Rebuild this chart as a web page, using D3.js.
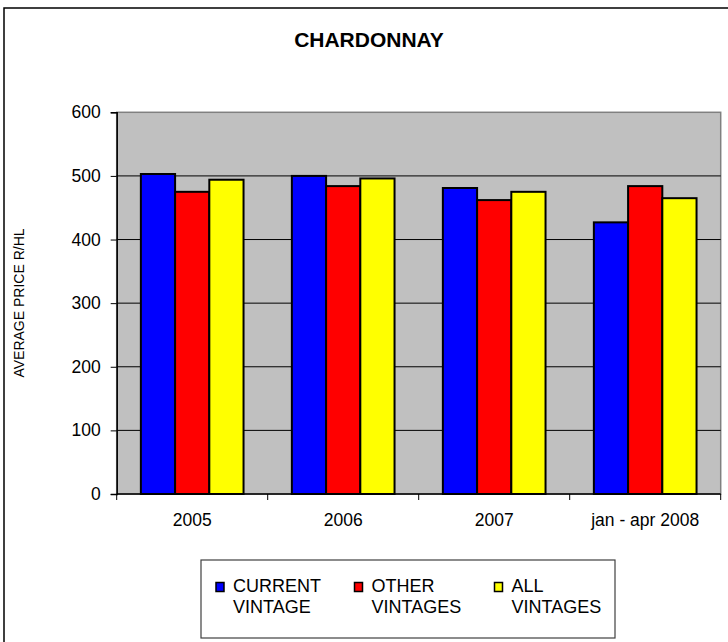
<!DOCTYPE html>
<html>
<head>
<meta charset="utf-8">
<script src="https://cdn.jsdelivr.net/npm/d3@7"></script>
<style>
  html, body { margin: 0; padding: 0; background: #ffffff; }
  svg { display: block; font-family: "Liberation Sans", Arial, sans-serif; }
</style>
</head>
<body>
<svg id="chart" width="728" height="642"></svg>
<script>
// ---- data ----
const categories = ["2005", "2006", "2007", "jan - apr 2008"];
const seriesNames = ["CURRENT VINTAGE", "OTHER VINTAGES", "ALL VINTAGES"];
const currentVintage = [503, 500, 481, 427];
const otherVintages = [475, 484, 462, 484];
const allVintages = [494, 496, 475, 465];
const yTicks = [0, 100, 200, 300, 400, 500, 600];
const seriesColors = ["#0000FF", "#FF0000", "#FFFF00"];
const legendLines = [["CURRENT", "VINTAGE"], ["OTHER", "VINTAGES"], ["ALL", "VINTAGES"]];

const seriesValues = [currentVintage, otherVintages, allVintages];
const rows = categories.map((c, i) => ({
  category: c,
  values: seriesNames.map((s, j) => ({ series: s, idx: j, value: seriesValues[j][i] }))
}));

const svg = d3.select("#chart");

// outer chart border (right/bottom cut off in reference)
svg.append("rect")
  .attr("x", 4).attr("y", 8)
  .attr("width", 760).attr("height", 700)
  .attr("fill", "#ffffff")
  .attr("stroke", "#000000")
  .attr("stroke-width", 1.5);

const plot = { left: 116.7, right: 720.7, top: 112.3, bottom: 494 };

const x0 = d3.scaleBand()
  .domain(categories)
  .range([plot.left, plot.right])
  .paddingInner(0.32)
  .paddingOuter(0.16);

const x1 = d3.scaleBand()
  .domain(seriesNames)
  .range([0, x0.bandwidth()]);

const y = d3.scaleLinear()
  .domain([0, 600])
  .range([plot.bottom, plot.top]);

// plot area background
svg.append("rect")
  .attr("x", plot.left).attr("y", plot.top)
  .attr("width", plot.right - plot.left)
  .attr("height", plot.bottom - plot.top)
  .attr("fill", "#C0C0C0")
  .attr("stroke", "#808080")
  .attr("stroke-width", 1.5);

// gridlines
svg.append("g")
  .selectAll("line")
  .data(yTicks.filter(t => t > 0 && t < 600))
  .join("line")
  .attr("x1", plot.left).attr("x2", plot.right)
  .attr("y1", d => y(d)).attr("y2", d => y(d))
  .attr("stroke", "#000000")
  .attr("stroke-width", 1);

// bars
const groups = svg.append("g")
  .selectAll("g")
  .data(rows)
  .join("g")
  .attr("transform", d => `translate(${x0(d.category)},0)`);

groups.selectAll("rect")
  .data(d => d.values)
  .join("rect")
  .attr("x", d => x1(d.series))
  .attr("y", d => y(d.value))
  .attr("width", x1.bandwidth())
  .attr("height", d => y(0) - y(d.value))
  .attr("fill", d => seriesColors[d.idx])
  .attr("stroke", "#000000")
  .attr("stroke-width", 2);

// y axis
const yAxis = d3.axisLeft(y)
  .tickValues(yTicks)
  .tickSize(6)
  .tickPadding(10)
  .tickFormat(d3.format("d"));

const gy = svg.append("g")
  .attr("transform", `translate(${plot.left},0)`)
  .call(yAxis);
gy.select(".domain").attr("stroke", "#000000").attr("stroke-width", 1.5);
gy.selectAll(".tick line").attr("stroke", "#000000").attr("stroke-width", 1);
gy.selectAll(".tick text")
  .attr("font-size", 17.5)
  .attr("font-family", "Liberation Sans, Arial, sans-serif")
  .attr("fill", "#000000");

// x axis (ticks between categories)
const gx = svg.append("g")
  .attr("transform", `translate(0,${plot.bottom})`);
gx.append("line")
  .attr("x1", plot.left).attr("x2", plot.right)
  .attr("y1", 0).attr("y2", 0)
  .attr("stroke", "#000000").attr("stroke-width", 1.5);
const step = x0.step();
const boundaries = categories.map((c, i) => i === 0 ? plot.left : x0(c) - step * 0.16).concat([plot.right]);
gx.selectAll("line.tick")
  .data(d3.range(categories.length + 1))
  .join("line")
  .attr("class", "tick")
  .attr("x1", i => plot.left + i * (plot.right - plot.left) / categories.length)
  .attr("x2", i => plot.left + i * (plot.right - plot.left) / categories.length)
  .attr("y1", 0).attr("y2", 6)
  .attr("stroke", "#000000").attr("stroke-width", 1);
gx.selectAll("text")
  .data(categories)
  .join("text")
  .attr("x", d => x0(d) + x0.bandwidth() / 2)
  .attr("y", 32)
  .attr("text-anchor", "middle")
  .attr("font-size", 17.5)
  .attr("fill", "#000000")
  .text(d => d);

// y axis title
svg.append("text")
  .attr("transform", "translate(24,303) rotate(-90)")
  .attr("text-anchor", "middle")
  .attr("font-size", 14)
  .attr("fill", "#000000")
  .text("AVERAGE PRICE R/HL");

// title
svg.append("text")
  .attr("x", 369)
  .attr("y", 47)
  .attr("text-anchor", "middle")
  .attr("font-size", 21)
  .attr("font-weight", "bold")
  .attr("fill", "#000000")
  .text("CHARDONNAY");

// legend
const legend = svg.append("g");
legend.append("rect")
  .attr("x", 201).attr("y", 560)
  .attr("width", 414).attr("height", 78)
  .attr("fill", "#ffffff")
  .attr("stroke", "#404040")
  .attr("stroke-width", 1.2);

const legendX = [216, 354.5, 494.5];
const items = legend.selectAll("g.item")
  .data(seriesNames)
  .join("g")
  .attr("class", "item")
  .attr("transform", (d, i) => `translate(${legendX[i]},0)`);
items.append("rect")
  .attr("x", 0).attr("y", 582.5)
  .attr("width", 8).attr("height", 9)
  .attr("fill", (d, i) => seriesColors[i])
  .attr("stroke", "#000000")
  .attr("stroke-width", 1.5);
items.append("text")
  .attr("font-size", 18)
  .attr("fill", "#000000")
  .selectAll("tspan")
  .data((d, i) => legendLines[i])
  .join("tspan")
  .attr("x", 17)
  .attr("y", (d, k) => 592 + k * 21)
  .text(d => d);
</script>
</body>
</html>
